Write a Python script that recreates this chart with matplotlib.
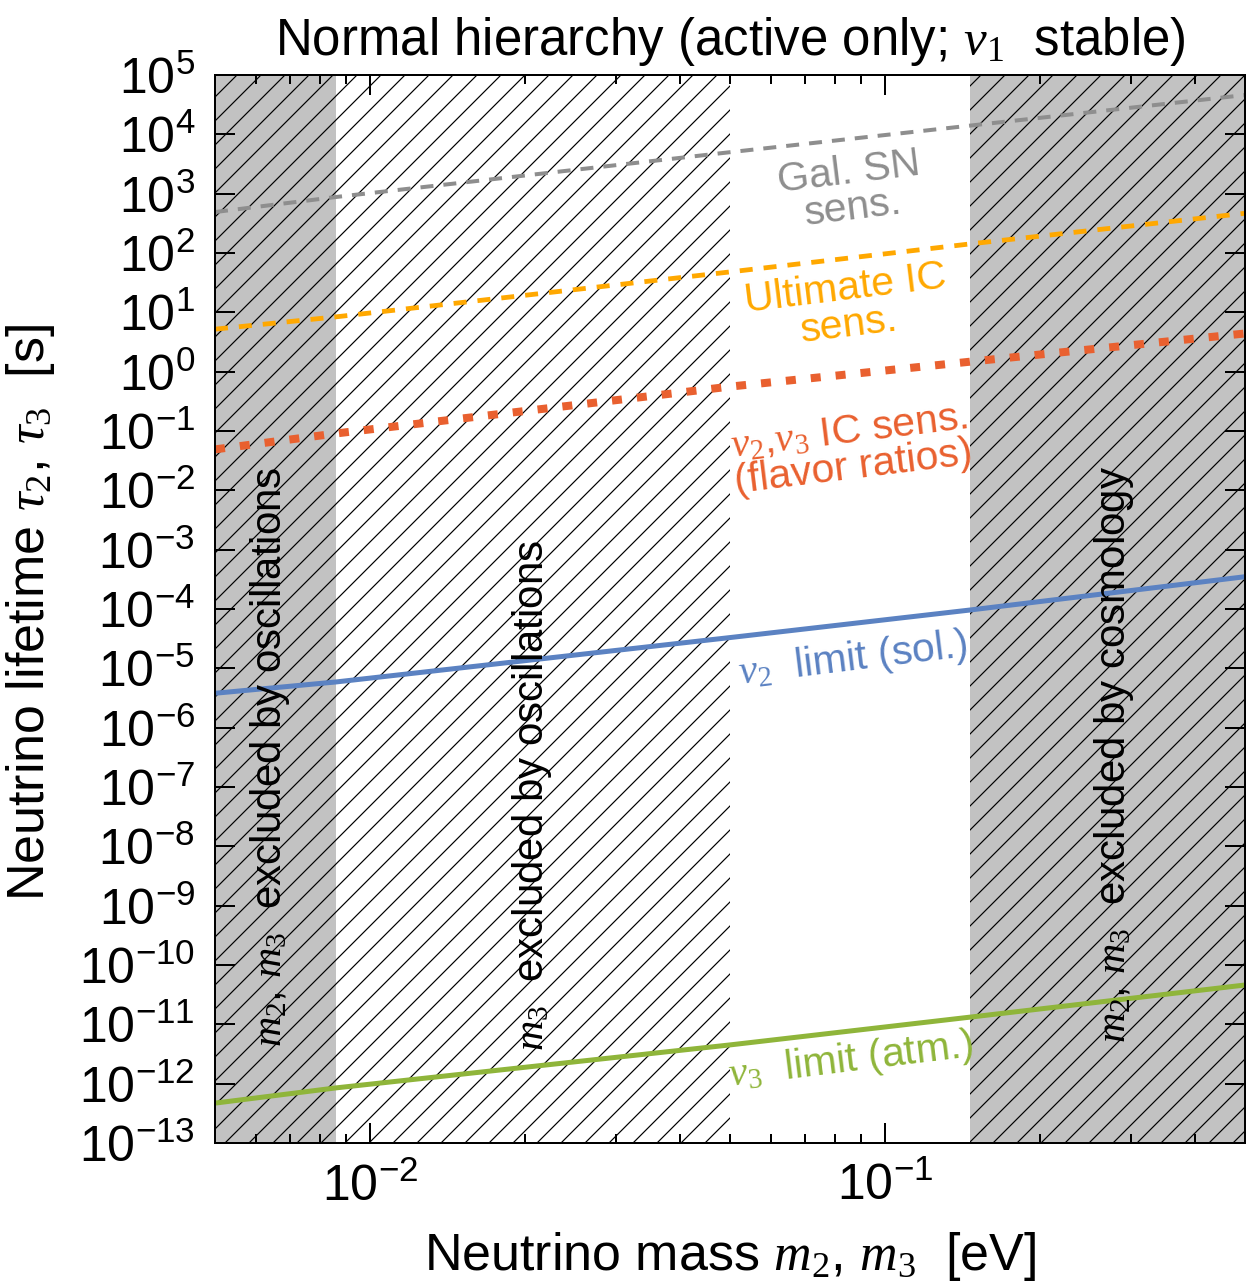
import numpy as np
import matplotlib
matplotlib.use('Agg')
import matplotlib.pyplot as plt
from matplotlib.ticker import LogLocator, FuncFormatter, NullLocator, NullFormatter

plt.rcParams['font.family'] = ['Liberation Sans', 'DejaVu Sans']
plt.rcParams['mathtext.fontset'] = 'custom'
plt.rcParams['mathtext.rm'] = 'Liberation Serif'
plt.rcParams['mathtext.it'] = 'Liberation Serif:italic'
plt.rcParams['mathtext.sf'] = 'Liberation Sans'
plt.rcParams['hatch.linewidth'] = 0.6
plt.rcParams['lines.scale_dashes'] = False

mass = [0.005, 0.0086, 0.05, 0.146, 0.5]
# lifetimes (s)
tau_sn = [490, 880, 5000, 14000, 46000]
tau_ic_ult = [5.2, 8.4, 48, 142, 467]
tau_ic_flavor = [0.049, 0.091, 0.56, 1.47, 4.4]
tau2_sol = [3.8e-6, 5.9e-6, 3.3e-5, 9.6e-5, 3.5e-4]
tau3_atm = [4.7e-13, 8.5e-13, 4.5e-12, 1.32e-11, 4.6e-11]

# excluded mass ranges
m_lo, m_hi = 0.005, 0.5
m2_min = 0.0086
m3_min = 0.05
m_cosmo = 0.146

fig = plt.figure(figsize=(1247 / 144, 1283 / 144), dpi=144)
ax = fig.add_axes([215 / 1247, 1 - 1143 / 1283, 1030 / 1247, 1068 / 1283])

gray = '#c2c2c2'
ax.axvspan(m_lo, m2_min, facecolor=gray, edgecolor='k', hatch='//', lw=0, zorder=0)
ax.axvspan(m2_min, m3_min, facecolor='white', edgecolor='k', hatch='//', lw=0, zorder=0)
ax.axvspan(m_cosmo, m_hi, facecolor=gray, edgecolor='k', hatch='//', lw=0, zorder=0)

ax.plot(mass, tau_sn, color='#8e8e8e', lw=2.0, dashes=(6.5, 5))
ax.plot(mass, tau_ic_ult, color='#ffa800', lw=2.4, dashes=(6.5, 5.5))
ax.plot(mass, tau_ic_flavor, color='#e9602f', lw=4.0, dashes=(5, 7.5))
ax.plot(mass, tau2_sol, color='#5b82c2', lw=2.5)
ax.plot(mass, tau3_atm, color='#8fb53a', lw=2.5)

ax.set_xscale('log')
ax.set_yscale('log')
ax.set_xlim(m_lo, m_hi)
ax.set_ylim(1e-13, 1e5)

ax.yaxis.set_major_locator(LogLocator(base=10, numticks=40))
ax.yaxis.set_minor_locator(NullLocator())
ax.xaxis.set_major_locator(LogLocator(base=10, numticks=10))
ax.xaxis.set_minor_locator(LogLocator(base=10, subs=np.arange(2, 10), numticks=20))
ax.xaxis.set_minor_formatter(NullFormatter())
fmt = FuncFormatter(lambda v, pos: r'$\mathsf{10^{%d}}$' % round(np.log10(v)))
ax.xaxis.set_major_formatter(fmt)
ax.yaxis.set_major_formatter(fmt)

ax.tick_params(which='both', direction='in', top=True, right=True, width=1.0, labelsize=25)
ax.tick_params(which='major', length=10, pad=10)
ax.tick_params(which='minor', length=4.5)
for s in ax.spines.values():
    s.set_linewidth(1.0)

ax.set_title(r'Normal hierarchy (active only; $\nu_1$  stable)', fontsize=25.5, pad=10)
ax.set_xlabel(r'Neutrino mass $m_2$, $m_3$  [eV]', fontsize=26)
ax.set_ylabel(r'Neutrino lifetime $\tau_2$, $\tau_3$  [s]', fontsize=26)
ax.xaxis.set_label_coords(0.5, -0.081)
ax.yaxis.set_label_coords(-0.153, 0.497)

# region labels
ax.text(0.0064, 3.2e-7, r'$m_2$, $m_3$  excluded by oscillations', rotation=90,
        ha='center', va='center', fontsize=21)
ax.text(0.0206, 7.2e-8, r'$m_3$  excluded by oscillations', rotation=90,
        ha='center', va='center', fontsize=21)
ax.text(0.278, 3.5e-7, r'$m_2$, $m_3$  excluded by cosmology', rotation=90,
        ha='center', va='center', fontsize=21)

# curve labels
ax.text(0.086, 1150, 'Gal. SN\nsens.', color='#8e8e8e', rotation=7, ha='center',
        va='center', multialignment='center', fontsize=20.5, linespacing=0.95,
        rotation_mode='anchor')
ax.text(0.0845, 12.3, 'Ultimate IC\nsens.', color='#ffa800', rotation=7, ha='center',
        va='center', multialignment='center', fontsize=20.5, linespacing=0.95,
        rotation_mode='anchor')
ax.text(0.086, 0.048, r'$\nu_2$,$\nu_3$ IC sens.' + '\n(flavor ratios)', color='#e9602f',
        rotation=7, ha='center', va='center', multialignment='center', fontsize=20.5,
        linespacing=0.95, rotation_mode='anchor')
ax.text(0.0866, 1.45e-5, r'$\nu_2$  limit (sol.)', color='#5b82c2', rotation=7,
        ha='center', va='center', fontsize=20.5, rotation_mode='anchor')
ax.text(0.086, 2.5e-12, r'$\nu_3$  limit (atm.)', color='#8fb53a', rotation=7,
        ha='center', va='center', fontsize=20.5, rotation_mode='anchor')

fig.savefig('out.png', dpi=144)
